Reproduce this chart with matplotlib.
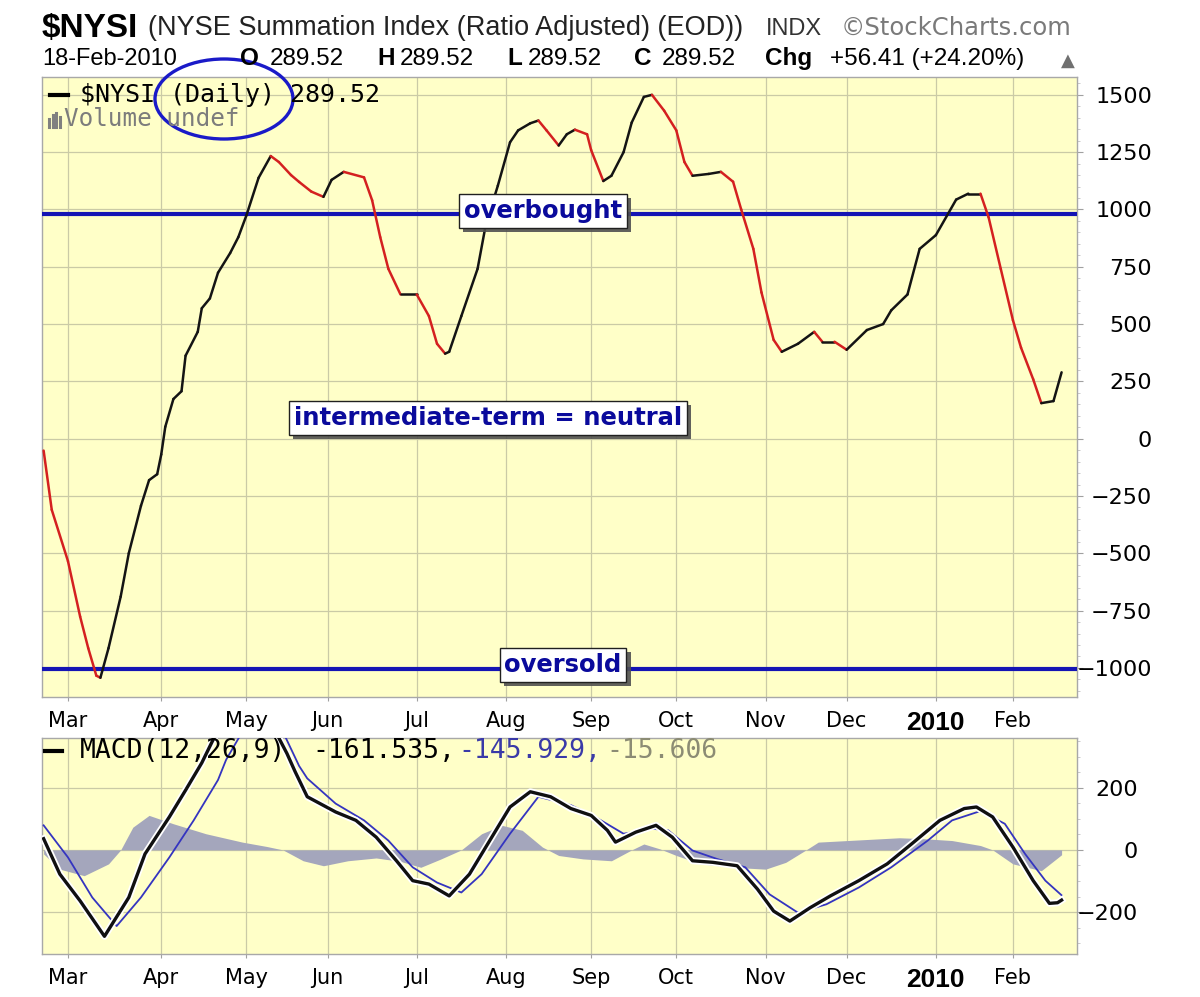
import matplotlib.pyplot as plt
import matplotlib.patheffects as pe
from matplotlib.collections import LineCollection
from matplotlib.patches import Ellipse
from matplotlib.lines import Line2D
import numpy as np

# trading calendar (NYSE holidays) used for the x axis
holidays = ['2009-04-10', '2009-05-25', '2009-07-03', '2009-09-07', '2009-11-26',
            '2009-12-25', '2010-01-01', '2010-01-18', '2010-02-15']
month_starts = ['2009-03-01', '2009-04-01', '2009-05-01', '2009-06-01', '2009-07-01',
                '2009-08-01', '2009-09-01', '2009-10-01', '2009-11-01', '2009-12-01',
                '2010-01-01', '2010-02-01']
month_labels = ['Mar', 'Apr', 'May', 'Jun', 'Jul', 'Aug', 'Sep', 'Oct', 'Nov', 'Dec', '2010', 'Feb']

# $NYSI, trading days counted from 2 Mar 2009
nysi_day = [-7, -5, -1, 2, 4, 6, 7, 9, 12, 14, 17, 19, 21, 22, 23, 25, 27, 28, 31, 32,
            34, 36, 39, 41, 43, 46, 49, 51, 54, 56, 59, 62, 64, 67, 72, 74, 76, 78, 81, 85,
            88, 90, 92, 93, 96, 100, 102, 105, 108, 110, 113, 115, 117, 120, 122, 124, 127, 128, 131, 133,
            136, 138, 141, 143, 146, 149, 151, 153, 157, 160, 163, 165, 168, 170, 173, 175, 179, 183, 185, 188,
            191, 196, 200, 202, 206, 209, 213, 218, 221, 224, 226, 229, 232, 234, 237, 239, 242, 244]
nysi_val = [-52, -310, -534, -776, -914, -1034, -1043, -914, -689, -500, -293, -181, -155, -69, 52, 173, 207, 362, 466, 569,
            612, 724, 810, 879, 974, 1138, 1233, 1207, 1150, 1120, 1078, 1055, 1129, 1164, 1140, 1040, 879, 741, 629, 629,
            535, 414, 371, 379, 535, 741, 931, 1104, 1293, 1345, 1376, 1388, 1345, 1279, 1328, 1348, 1328, 1259, 1124, 1147,
            1250, 1379, 1491, 1500, 1431, 1345, 1207, 1147, 1155, 1164, 1121, 1000, 828, 638, 431, 379, 414, 466, 423, 423,
            388, 474, 500, 560, 629, 828, 888, 1043, 1069, 1069, 966, 741, 517, 397, 259, 155, 164, 289.52]
overbought = 980
oversold = -1005

# MACD(12,26,9)
macd_day = [-7, -3, 2, 8, 14, 18, 24, 28, 32, 35, 38, 42, 46, 50, 53, 55, 58, 65, 70, 75,
            80, 84, 88, 93, 98, 103, 108, 113, 118, 123, 128, 132, 134, 139, 144, 148, 153, 158, 164, 169,
            173, 177, 182, 187, 194, 201, 207, 214, 220, 223, 227, 232, 237, 241, 243, 244]
macd_val = [36, -78, -164, -278, -153, -13, 106, 192, 280, 360, 420, 450, 435, 385, 310, 252, 171, 122, 95, 41,
            -35, -99, -110, -148, -78, 30, 138, 187, 171, 133, 111, 63, 25, 57, 79, 41, -35, -40, -51, -126,
            -197, -229, -186, -148, -99, -45, 19, 95, 133, 138, 106, 9, -99, -172, -170, -161.535]
sig_day = [-7, -1, 5, 11, 17, 24, 30, 36, 38, 42, 47, 52, 56, 58, 65, 72, 78, 84, 90, 96,
           101, 108, 115, 123, 129, 136, 143, 147, 153, 159, 166, 172, 179, 186, 194, 202, 211, 217, 224, 230,
           235, 240, 244]
sig_val = [79, -24, -153, -245, -153, -24, 95, 225, 290, 380, 420, 380, 270, 230, 149, 95, 30, -56, -105, -137,
           -78, 52, 171, 144, 106, 52, 68, 63, -2, -29, -56, -143, -202, -175, -121, -56, 30, 95, 125, 84,
           -13, -99, -145.929]
hist_day = [-7, -3, 3, 9, 12, 15, 19, 25, 33, 42, 48, 52, 57, 62, 68, 75, 81, 86, 91, 96,
            101, 106, 111, 116, 120, 126, 133, 138, 141, 145, 149, 155, 163, 171, 176, 181, 184, 194, 204, 210,
            217, 224, 227, 232, 239, 244]
hist_val = [-13, -62, -83, -45, 0, 73, 111, 84, 52, 25, 11, 0, -35, -51, -35, -26, -37, -56, -29, 0,
            52, 79, 63, 9, -18, -29, -35, 0, 19, 3, -18, -45, -56, -62, -40, 0, 25, 32, 39, 36,
            30, 14, 0, -45, -67, -15.606]

W, H = 1200, 997
def px(x, y):
    return x / W, 1 - y / H

month_pos = np.busday_count('2009-03-02', month_starts, holidays=holidays)

fig = plt.figure(figsize=(12, 9.97), dpi=100)
fig.patch.set_facecolor('white')

panel = '#ffffc8'
grid_c = '#cacaa6'

def style_axes(ax):
    ax.set_facecolor(panel)
    ax.set_axisbelow(True)
    for s in ax.spines.values():
        s.set_color('#a8a8a8')
        s.set_linewidth(1)
    ax.set_xticks(month_pos)
    ax.set_xticklabels(month_labels)
    ax.grid(True, color=grid_c, linewidth=0.9)
    ax.tick_params(axis='x', length=3, color='#a0a0a0', labelsize=15, pad=7)
    for lab in ax.get_xticklabels():
        if lab.get_text() == '2010':
            lab.set_fontweight('bold')
            lab.set_fontsize(19)
            lab.set_family('Liberation Sans')
    ax.yaxis.tick_right()
    ax.set_xlim(-7.4, 247.8)

# ---- main panel
ax = fig.add_axes([0.035, 0.3009, 0.8625, 0.6219])
style_axes(ax)
ax.set_ylim(-1127, 1578)
ax.set_yticks(np.arange(-1000, 1501, 250))
ax.set_yticks(np.arange(-1100, 1551, 50), minor=True)
ax.tick_params(axis='y', which='major', length=4, color='#a0a0a0', labelsize=16, pad=50)
ax.tick_params(axis='y', which='minor', length=2, color='#c0c0c0')
for lab in ax.get_yticklabels():
    lab.set_horizontalalignment('right')

ax.axhline(overbought, color='#1414b4', lw=3, zorder=3)
ax.axhline(oversold, color='#1414b4', lw=3, zorder=3)

pts = np.column_stack([nysi_day, nysi_val])
segs = np.stack([pts[:-1], pts[1:]], axis=1)
cols = np.where(np.diff(nysi_val) < 0, '#d42020', '#141414')
ax.add_collection(LineCollection(segs, colors=cols, linewidths=1.8, capstyle='round', zorder=4))

# ---- MACD panel
ax2 = fig.add_axes([0.035, 0.0431, 0.8625, 0.2167])
style_axes(ax2)
ax2.set_ylim(-335, 360)
ax2.set_yticks([-200, 0, 200])
ax2.set_yticks(np.arange(-300, 351, 50), minor=True)
ax2.tick_params(axis='y', which='major', length=4, color='#a0a0a0', labelsize=16, pad=40)
ax2.tick_params(axis='y', which='minor', length=2, color='#c0c0c0')
for lab in ax2.get_yticklabels():
    lab.set_horizontalalignment('right')

ax2.fill_between(hist_day, 0, hist_val, color='#a4a6bc', lw=0, zorder=2)
ax2.plot(sig_day, sig_val, color='#3434c0', lw=1.3, zorder=3)
ax2.plot(macd_day, macd_val, color='#101010', lw=2.4, zorder=4,
         path_effects=[pe.Stroke(linewidth=5, foreground='white'), pe.Normal()])

# ---- header
fig.text(*px(42, 37), '$NYSI', fontsize=24, fontweight='bold', family='Liberation Sans', va='baseline')
fig.text(*px(148, 35), '(NYSE Summation Index (Ratio Adjusted) (EOD))', fontsize=19.5,
         family='Liberation Sans', color='#222222', va='baseline')
fig.text(*px(766, 35), 'INDX', fontsize=17, family='Liberation Sans', color='#333333', va='baseline')
fig.text(*px(841, 35), '\u00a9StockCharts.com', fontsize=17.5, family='DejaVu Sans', color='#7a7a7a', va='baseline')

y2 = 65
fig.text(*px(42, y2), '18-Feb-2010', fontsize=17, family='Liberation Sans', va='baseline')
for x, s, bold in [(240, 'O', True), (270, '289.52', False), (377, 'H', True), (400, '289.52', False),
                   (507, 'L', True), (528, '289.52', False), (634, 'C', True), (662, '289.52', False),
                   (765, 'Chg', True), (830, '+56.41 (+24.20%)', False)]:
    fig.text(*px(x, y2), s, fontsize=17.5, family='Liberation Sans',
             fontweight='bold' if bold else 'normal', va='baseline')
fig.text(*px(1068, y2 - 4), '\u25b2', fontsize=13, color='#707070', ha='center', va='center')

# ---- in-panel legends
fig.add_artist(Line2D([50 / W, 68 / W], [1 - 95 / H, 1 - 95 / H], color='black', lw=3))
fig.text(*px(80, 95), '$NYSI (Daily) 289.52', fontsize=18, family='DejaVu Sans Mono', va='center')
for i, hgt in enumerate([8, 12, 14, 10]):
    fig.add_artist(Line2D([(49 + 3.5 * i) / W] * 2, [1 - 127 / H, 1 - (127 - hgt) / H], color='#808080', lw=2.2))
fig.text(*px(64, 119), 'Volume undef', fontsize=17.5, family='DejaVu Sans Mono', color='#7c7c7c', va='center')

fig.add_artist(Line2D([45 / W, 62 / W], [1 - 751 / H, 1 - 751 / H], color='black', lw=3))
fig.text(*px(80, 751), 'MACD(12,26,9)', fontsize=19, family='DejaVu Sans Mono', va='center')
fig.text(*px(312, 751), '-161.535,', fontsize=19, family='DejaVu Sans Mono', va='center')
fig.text(*px(458, 751), '-145.929,', fontsize=19, family='DejaVu Sans Mono', color='#3a3aa8', va='center')
fig.text(*px(606, 751), '-15.606', fontsize=19, family='DejaVu Sans Mono', color='#8c8c74', va='center')

# hand-drawn circle around "(Daily)"
fig.add_artist(Ellipse(px(224, 99), 138 / W, 80 / H, fill=False, ec='#1a1ac8', lw=2.4))

# ---- note boxes
def note(x, y, s):
    t = fig.text(*px(x, y), s, ha='center', va='center', fontsize=17.5, fontweight='bold',
                 family='DejaVu Sans', color='#0a0a9c', zorder=10,
                 bbox=dict(boxstyle='square,pad=0.2', fc='white', ec='#202020', lw=1))
    t.get_bbox_patch().set_path_effects([pe.withSimplePatchShadow(offset=(3, -3), shadow_rgbFace='#505050', alpha=0.9)])

note(543, 211, 'overbought')
note(488, 418, 'intermediate-term = neutral')
note(563, 665, 'oversold')

fig.savefig('out.png', dpi=100)
